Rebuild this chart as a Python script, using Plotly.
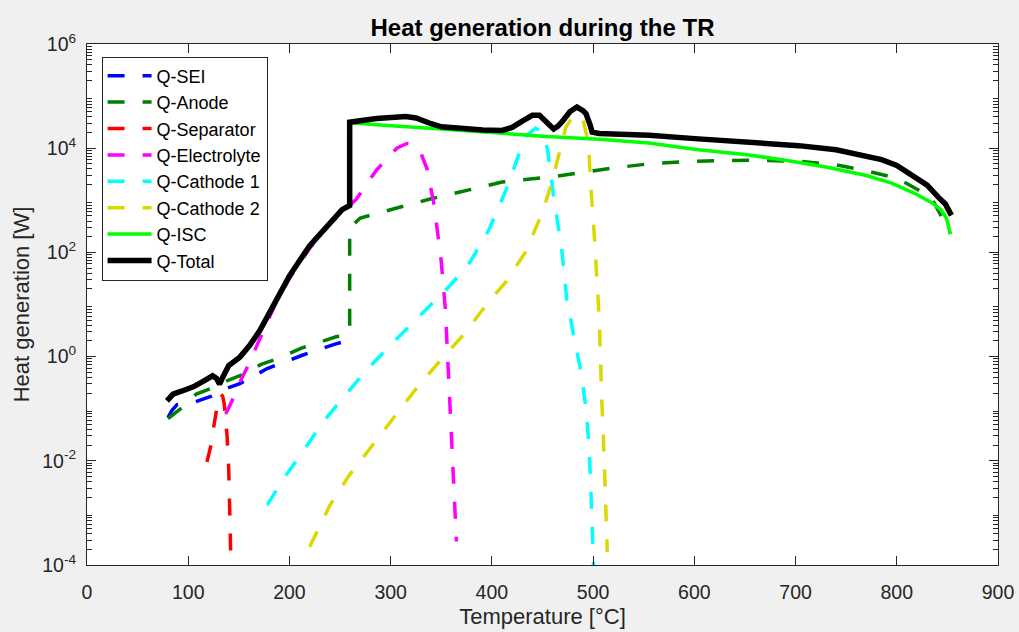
import plotly.graph_objects as go

# ---------------- data ----------------
T_sei = [80, 84, 89, 100, 107, 123, 138, 151, 178, 212, 245, 257]
Q_sei = [0.0676, 0.0933, 0.120, 0.126, 0.135, 0.174, 0.245, 0.302, 0.589, 1.05, 1.74, 2.0]

T_anode = [80, 94, 108, 124, 140, 153, 172, 188, 213, 246, 256, 259.5, 259.5, 270, 338, 410,
           463, 516, 555, 600, 654, 703, 740, 769, 801, 834, 853]
Q_anode = [0.0646, 0.105, 0.191, 0.251, 0.355, 0.447, 0.708, 0.912, 1.48, 2.40, 2.57, 2.95, 295,
           457, 1047, 2239, 2884, 4074, 5012, 5623, 5888, 5623, 4786, 3715, 2630, 1148, 229]

T_sep = [118.5, 122.5, 126, 128, 130, 132, 134, 135.5, 137, 138.5, 140, 141, 142]
Q_sep = [0.00955, 0.0200, 0.0562, 0.100, 0.158, 0.191, 0.174, 0.126, 0.0631, 0.0282,
         0.00708, 0.00126, 0.000158]

T_ele = [137, 145, 152, 160, 168, 177, 187, 200, 220, 240, 256, 266, 286, 296, 306, 316,
         324, 330, 336, 343, 350, 354, 358, 362, 365]
Q_ele = [0.0794, 0.166, 0.355, 0.724, 1.66, 4.17, 11.2, 31.6, 120, 355, 708, 1047, 3800,
         6310, 10000, 12300, 11500, 7940, 3980, 794, 66.1, 8.32, 0.186, 0.00851, 0.000282]

T_cat1 = [178, 193, 213, 233, 256, 279, 305, 331, 358, 378, 397, 414, 424, 433, 443, 450,
          455, 461, 469, 474, 481, 488, 493, 496, 497.5, 499, 500, 501]
Q_cat1 = [0.00141, 0.00417, 0.0148, 0.0550, 0.191, 0.631, 2.09, 6.76, 22.4, 63.1, 269, 1585,
          5248, 16600, 24000, 20900, 9330, 1202, 115, 12.6, 2.45, 0.513, 0.100, 0.0195,
          0.00398, 0.000794, 0.000132, 0.0000501]

T_cat2 = [220, 240, 259, 279, 302, 325, 348, 371, 394, 414, 433, 450, 459, 466, 473, 479,
          485, 490, 495.5, 497.5, 501, 506, 507, 508.5, 510, 511, 512, 513, 514]
Q_cat2 = [0.000224, 0.00141, 0.00525, 0.0170, 0.0631, 0.240, 0.794, 2.51, 9.55, 27.5, 100,
          589, 2138, 7943, 25100, 38000, 45700, 35500, 12300, 2138, 240, 5.62, 0.813, 0.158,
          0.0355, 0.00708, 0.00141, 0.000316, 0.000178]

T_isc = [260, 293, 350, 400, 450, 506, 555, 604, 650, 690, 730, 769, 795, 818, 835, 844, 849, 853]
Q_isc = [30900, 27500, 23400, 19950, 17000, 14800, 12600, 9330, 7590, 5890, 4365, 3020, 2138,
         1349, 891, 646, 457, 224]

T_total = [79, 85, 94, 105, 116, 124, 128, 131, 134, 140, 151, 161, 171, 180, 190, 200, 220,
           240, 252, 259.5, 259.5, 286, 300, 315, 325, 331, 340, 350, 370, 391, 410, 420, 430,
           440, 447, 455, 461, 465, 469, 477, 484, 490, 493, 497, 499, 506, 555, 604, 650, 703,
           740, 769, 785, 800, 818, 830, 841, 848, 854]
Q_total = [0.141, 0.191, 0.219, 0.263, 0.347, 0.427, 0.380, 0.295, 0.398, 0.676, 0.977, 1.66,
           3.24, 7.08, 15.8, 35.5, 135, 380, 661, 794, 31600, 37200, 38900, 40700, 38000, 33900,
           29500, 25700, 23400, 22400, 21900, 25100, 33100, 42700, 42700, 31600, 23400, 26300,
           31600, 50100, 61700, 52500, 45700, 28200, 20400, 19100, 17800, 15100, 13200, 11200,
           9330, 7240, 6030, 4680, 2820, 1950, 1148, 851, 513]

names = ["Q-SEI", "Q-Anode", "Q-Separator", "Q-Electrolyte", "Q-Cathode 1", "Q-Cathode 2",
         "Q-ISC", "Q-Total"]
colors = ["#0000ff", "#008000", "#ff0000", "#ff00ff", "#00ffff", "#d9d900", "#00ff00", "#000000"]

x_ticks = [0, 100, 200, 300, 400, 500, 600, 700, 800, 900]
y_label_vals = [1e-4, 1e-2, 1e0, 1e2, 1e4, 1e6]
y_label_text = ["10<sup>-4</sup>", "10<sup>-2</sup>", "10<sup>0</sup>",
                "10<sup>2</sup>", "10<sup>4</sup>", "10<sup>6</sup>"]
y_odd_decades = [1e-3, 1e-1, 1e1, 1e3, 1e5]
y_minor = [m * 10.0 ** e for e in range(-4, 6) for m in range(2, 10)]

# ---------------- figure ----------------
series = [(T_sei, Q_sei), (T_anode, Q_anode), (T_sep, Q_sep), (T_ele, Q_ele),
          (T_cat1, Q_cat1), (T_cat2, Q_cat2), (T_isc, Q_isc), (T_total, Q_total)]

FONT = "Liberation Sans, Arial, Helvetica, sans-serif"
INK = "#262626"
fig = go.Figure()
for (tx, qy), nm, col in zip(series, names, colors):
    if nm == "Q-Total":
        line = dict(color=col, width=5.5)
    elif nm == "Q-ISC":
        line = dict(color=col, width=3.5)
    else:
        line = dict(color=col, width=3.5, dash="17px,18px")
    fig.add_trace(go.Scatter(x=tx, y=qy, mode="lines", name=nm, line=line))

axis_common = dict(
    showline=True, linecolor=INK, linewidth=1, mirror="allticks",
    ticks="inside", tickcolor=INK, showgrid=False, zeroline=False, automargin=False,
    tickfont=dict(family=FONT, size=19.5, color=INK),
)

fig.update_layout(
    width=1019, height=632,
    paper_bgcolor="#f0f0f0", plot_bgcolor="#ffffff",
    margin=dict(l=87, r=21, t=44, b=67),
    font=dict(family=FONT, color=INK),
    title=dict(text="<b>Heat generation during the TR</b>", x=0.5, xref="paper",
               xanchor="center", y=1 - 28 / 632, yanchor="middle",
               font=dict(family=FONT, size=24, color="#000000")),
    showlegend=True,
    legend=dict(x=0.016, y=0.976, xanchor="left", yanchor="top",
                bgcolor="#ffffff", bordercolor=INK, borderwidth=1,
                font=dict(family=FONT, size=18, color="#000000"),
                tracegroupgap=0, itemwidth=44),
)
fig.update_xaxes(
    range=[0, 900], tickmode="array", tickvals=x_ticks, ticklen=9,
    ticklabelstandoff=10,
    title=dict(text="Temperature [°C]", font=dict(family=FONT, size=22, color=INK),
               standoff=6),
    **axis_common,
)
fig.update_yaxes(
    type="log", range=[-4, 6], tickmode="array", tickvals=y_label_vals, ticktext=y_label_text,
    ticklen=9, ticklabelstandoff=6,
    minor=dict(tickmode="array", tickvals=y_minor, ticks="inside", ticklen=5,
               tickcolor=INK, showgrid=False),
    title=dict(text="Heat generation [W]", font=dict(family=FONT, size=22, color=INK),
               standoff=6),
    **axis_common,
)
# overlay axis that only draws the unlabeled decade ticks (full length)
fig.update_layout(
    yaxis2=dict(type="log", range=[-4, 6], overlaying="y", anchor="x", side="left",
                tickmode="array", tickvals=y_odd_decades, showticklabels=False,
                ticks="inside", ticklen=9, tickcolor=INK, showline=True, linecolor=INK,
                linewidth=1, mirror="allticks", showgrid=False, zeroline=False,
                automargin=False)
)

page_fix = ("document.body.style.margin='0px';"
            "document.body.style.backgroundColor='#f0f0f0';"
            "document.body.style.overflow='hidden';")
fig.write_html("out.html", post_script=page_fix, config={"displayModeBar": False})
